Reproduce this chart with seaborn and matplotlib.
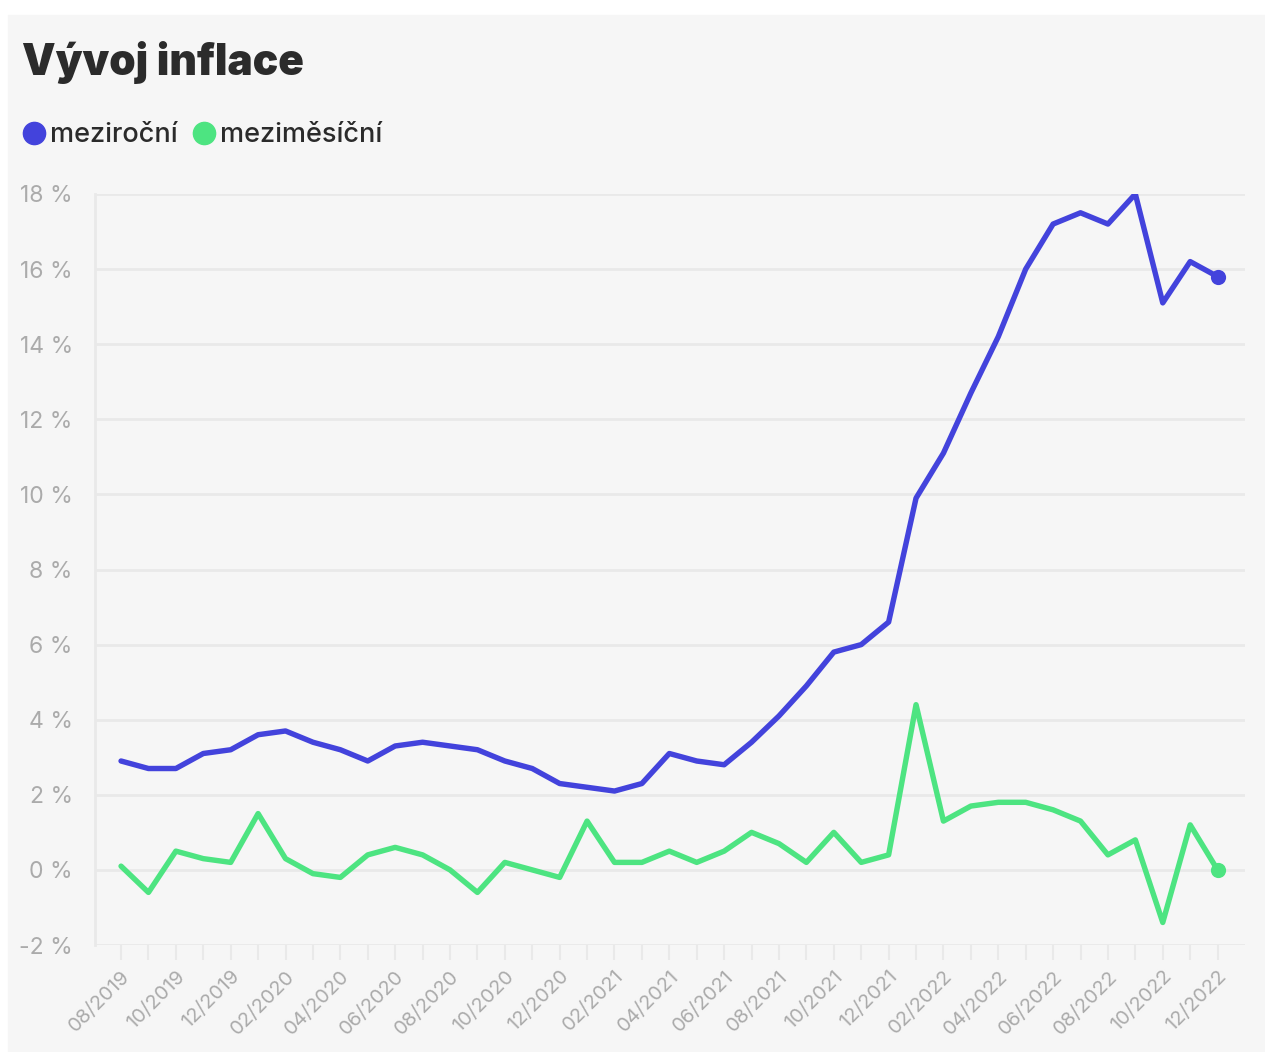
import matplotlib
matplotlib.use("Agg")
import matplotlib.pyplot as plt
import numpy as np
import pandas as pd
import seaborn as sns
from matplotlib.lines import Line2D

# --- data -----------------------------------------------------------------
months = [
    "08/2019", "09/2019", "10/2019", "11/2019", "12/2019",
    "01/2020", "02/2020", "03/2020", "04/2020", "05/2020", "06/2020",
    "07/2020", "08/2020", "09/2020", "10/2020", "11/2020", "12/2020",
    "01/2021", "02/2021", "03/2021", "04/2021", "05/2021", "06/2021",
    "07/2021", "08/2021", "09/2021", "10/2021", "11/2021", "12/2021",
    "01/2022", "02/2022", "03/2022", "04/2022", "05/2022", "06/2022",
    "07/2022", "08/2022", "09/2022", "10/2022", "11/2022", "12/2022",
]
yoy = [
    2.9, 2.7, 2.7, 3.1, 3.2,
    3.6, 3.7, 3.4, 3.2, 2.9, 3.3,
    3.4, 3.3, 3.2, 2.9, 2.7, 2.3,
    2.2, 2.1, 2.3, 3.1, 2.9, 2.8,
    3.4, 4.1, 4.9, 5.8, 6.0, 6.6,
    9.9, 11.1, 12.7, 14.2, 16.0, 17.2,
    17.5, 17.2, 18.0, 15.1, 16.2, 15.8,
]
mom = [
    0.1, -0.6, 0.5, 0.3, 0.2,
    1.5, 0.3, -0.1, -0.2, 0.4, 0.6,
    0.4, 0.0, -0.6, 0.2, 0.0, -0.2,
    1.3, 0.2, 0.2, 0.5, 0.2, 0.5,
    1.0, 0.7, 0.2, 1.0, 0.2, 0.4,
    4.4, 1.3, 1.7, 1.8, 1.8, 1.6,
    1.3, 0.4, 0.8, -1.4, 1.2, 0.0,
]
series_names = ["meziroční", "meziměsíční"]
y_ticks = [-2, 0, 2, 4, 6, 8, 10, 12, 14, 16, 18]

# --- style ----------------------------------------------------------------
BG = "#f6f6f6"
GRID = "#e9e9e9"
MUTED = "#ababab"
INK = "#2b2b2b"
COLORS = {"meziroční": "#4343dc", "meziměsíční": "#4de481"}

sns.set_theme(style="white", rc={
    "figure.facecolor": "white",
    "axes.facecolor": BG,
    "axes.edgecolor": GRID,
})
plt.rcParams["font.family"] = ["Inter", "DejaVu Sans"]

df = pd.DataFrame({
    "idx": list(range(len(months))) * 2,
    "value": yoy + mom,
    "series": [series_names[0]] * len(months) + [series_names[1]] * len(months),
})

fig = plt.figure(figsize=(12.65, 10.52), dpi=100)
# card background behind everything
card = plt.Rectangle((8 / 1265, 0), 1 - 8 / 1265, 1 - 15 / 1052,
                     transform=fig.transFigure, color=BG, zorder=-10)
fig.patches.append(card)
ax = fig.add_axes([95 / 1265, 1 - 945 / 1052, (1245 - 95) / 1265, (945 - 194) / 1052])
ax.set_facecolor(BG)
ax.set_zorder(1)

sns.lineplot(data=df, x="idx", y="value", hue="series", palette=COLORS,
             linewidth=3.9, ax=ax, legend=False, sort=False)
# end dots
for name, vals in zip(series_names, [yoy, mom]):
    ax.scatter([len(vals) - 1], [vals[-1]], s=120, color=COLORS[name], zorder=5, linewidths=0)

ax.set_xlim(-0.95, 41.0)
ax.set_ylim(-2, 18)
ax.set_yticks(y_ticks)
ax.set_yticklabels([f"{t} %" for t in y_ticks], color=MUTED, fontsize=16.5)
for t in y_ticks:
    ax.axhline(t, color=GRID, lw=2, zorder=0)

ax.set_xticks(range(len(months)))
ax.set_xticklabels([m if i % 2 == 0 else "" for i, m in enumerate(months)],
                   rotation=45, ha="right", rotation_mode="anchor", color=MUTED, fontsize=14.5)
ax.tick_params(axis="x", length=11, width=1.5, color=GRID, pad=5, bottom=True)
ax.tick_params(axis="y", length=0, pad=16)

for s in ["top", "right", "bottom"]:
    ax.spines[s].set_visible(False)
ax.spines["left"].set_color(GRID)
ax.spines["left"].set_linewidth(2)
ax.set_xlabel("")
ax.set_ylabel("")

fig.text(22 / 1265, 1 - 62 / 1052, "Vývoj inflace", fontsize=30.5, fontweight=900,
         color=INK, va="center", ha="left")

handles = [Line2D([], [], marker="o", linestyle="", markersize=16, color=COLORS[n]) for n in series_names]
fig.legend(handles, series_names, loc="center left", bbox_to_anchor=(-4 / 1265, 1 - 135 / 1052),
           ncol=2, frameon=False, handletextpad=0.1, columnspacing=0.45,
           labelcolor=INK, handlelength=1.0, prop={"size": 19.5, "weight": "medium"})

fig.savefig("out.png", dpi=100, facecolor="white")
